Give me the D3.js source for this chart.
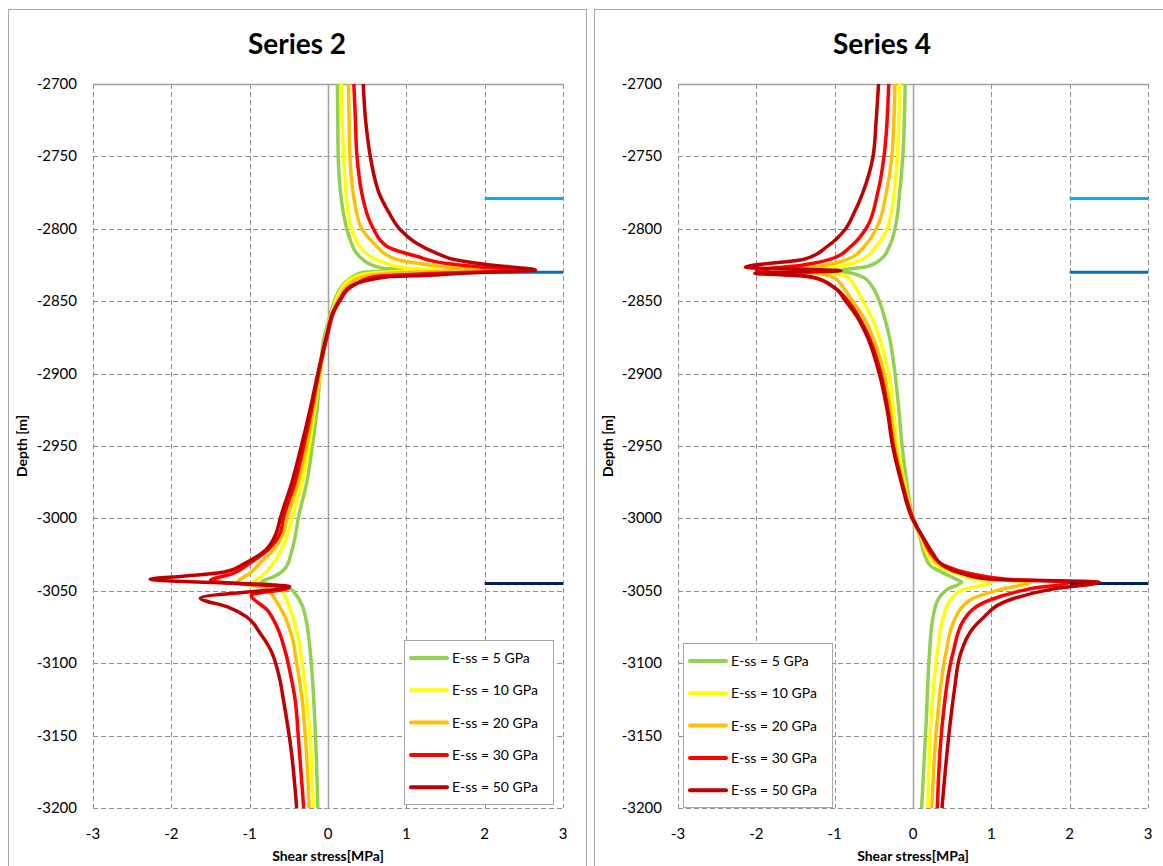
<!DOCTYPE html>
<html>
<head>
<meta charset="utf-8">
<script src="https://cdn.jsdelivr.net/npm/d3@7"></script>
<style>
  body { margin: 0; background: #fff; }
  svg { display: block; font-family: Lato, "Open Sans", sans-serif; }
</style>
</head>
<body>
<script>
// ---- data: [depth (m), shear stress (MPa)] ----
var seriesNames = ["E-ss = 5 GPa", "E-ss = 10 GPa", "E-ss = 20 GPa", "E-ss = 30 GPa", "E-ss = 50 GPa"];
var seriesColors = ["#92D050", "#FFFF00", "#FFC000", "#FF0000", "#C00000"];

var s2_5 = [[-2700,0.12],[-2725,0.125],[-2750,0.13],[-2775,0.16],[-2790,0.20],[-2800,0.24],[-2810,0.30],[-2815,0.34],[-2820,0.42],[-2824,0.52],[-2827,0.68],[-2828.5,0.95],[-2830,0.45],[-2833,0.32],[-2837,0.22],[-2845,0.12],[-2855,0.05],[-2865,0.0],[-2875,-0.05],[-2900,-0.10],[-2925,-0.14],[-2950,-0.20],[-2975,-0.27],[-3000,-0.38],[-3010,-0.41],[-3022,-0.46],[-3034,-0.54],[-3040,-0.68],[-3044,-0.85],[-3048,-0.50],[-3052,-0.42],[-3060,-0.33],[-3070,-0.28],[-3090,-0.23],[-3110,-0.20],[-3150,-0.16],[-3200,-0.13]];
var s2_10 = [[-2700,0.17],[-2725,0.18],[-2750,0.20],[-2775,0.23],[-2790,0.26],[-2800,0.30],[-2810,0.38],[-2815,0.45],[-2820,0.57],[-2824,0.75],[-2827,1.0],[-2828.5,1.4],[-2830,0.7],[-2832,0.4],[-2836,0.26],[-2845,0.14],[-2858,0.05],[-2870,-0.01],[-2900,-0.10],[-2925,-0.17],[-2950,-0.24],[-2975,-0.33],[-3000,-0.46],[-3010,-0.51],[-3022,-0.60],[-3034,-0.74],[-3040,-0.85],[-3044,-0.95],[-3048,-0.62],[-3054,-0.55],[-3068,-0.45],[-3085,-0.37],[-3100,-0.33],[-3125,-0.27],[-3150,-0.23],[-3200,-0.19]];
var s2_20 = [[-2700,0.26],[-2725,0.27],[-2750,0.28],[-2775,0.32],[-2790,0.37],[-2800,0.43],[-2812,0.62],[-2817,0.72],[-2821.5,0.9],[-2825,1.3],[-2827,1.6],[-2828.5,2.0],[-2830,1.0],[-2832,0.55],[-2836,0.32],[-2845,0.17],[-2858,0.06],[-2870,0.0],[-2900,-0.11],[-2925,-0.19],[-2950,-0.27],[-2975,-0.38],[-3000,-0.52],[-3010,-0.57],[-3022,-0.70],[-3031,-0.87],[-3038,-1.0],[-3044,-1.15],[-3048,-0.8],[-3054,-0.70],[-3068,-0.55],[-3084,-0.45],[-3100,-0.40],[-3125,-0.33],[-3150,-0.29],[-3200,-0.24]];
var s2_30 = [[-2700,0.33],[-2725,0.35],[-2750,0.37],[-2775,0.43],[-2790,0.50],[-2800,0.58],[-2812,0.75],[-2819,1.13],[-2824,1.52],[-2826.5,1.98],[-2828.5,2.5],[-2830.5,1.5],[-2833,0.6],[-2840,0.30],[-2849,0.16],[-2858,0.07],[-2872,0.0],[-2900,-0.12],[-2925,-0.21],[-2950,-0.31],[-2975,-0.42],[-3000,-0.57],[-3010,-0.61],[-3022,-0.77],[-3031,-1.0],[-3038,-1.21],[-3043,-1.5],[-3048,-0.5],[-3053,-0.98],[-3063,-0.78],[-3075,-0.65],[-3091,-0.55],[-3110,-0.47],[-3125,-0.42],[-3150,-0.38],[-3200,-0.31]];
var s2_50 = [[-2700,0.45],[-2725,0.48],[-2750,0.54],[-2766,0.60],[-2775,0.65],[-2789,0.78],[-2801,0.93],[-2810,1.13],[-2817,1.39],[-2821.6,1.64],[-2825,2.07],[-2828.5,2.65],[-2830.7,1.73],[-2832,1.3],[-2833,0.79],[-2840,0.28],[-2849,0.15],[-2858,0.06],[-2872,-0.01],[-2900,-0.13],[-2925,-0.23],[-2950,-0.34],[-2975,-0.46],[-3000,-0.61],[-3010,-0.66],[-3022,-0.80],[-3031,-1.06],[-3037,-1.32],[-3040,-1.85],[-3042,-2.27],[-3047,-0.49],[-3055,-1.63],[-3061,-1.29],[-3068,-1.04],[-3079,-0.87],[-3090,-0.74],[-3110,-0.62],[-3125,-0.57],[-3160,-0.47],[-3200,-0.40]];

var s4_5 = [[-2700,-0.10],[-2750,-0.13],[-2775,-0.17],[-2800,-0.23],[-2812,-0.30],[-2821,-0.41],[-2826,-0.58],[-2829,-0.92],[-2831,-0.75],[-2834,-0.62],[-2840,-0.52],[-2850,-0.43],[-2862,-0.36],[-2875,-0.30],[-2900,-0.23],[-2925,-0.18],[-2950,-0.14],[-2975,-0.08],[-3000,0.0],[-3015,0.10],[-3024,0.14],[-3033,0.23],[-3038,0.40],[-3042,0.55],[-3044,0.62],[-3049,0.44],[-3056,0.32],[-3070,0.25],[-3093,0.21],[-3139,0.17],[-3200,0.11]];
var s4_10 = [[-2700,-0.17],[-2750,-0.20],[-2775,-0.24],[-2800,-0.33],[-2812,-0.47],[-2821,-0.64],[-2825,-0.85],[-2829,-1.25],[-2831,-0.95],[-2834,-0.82],[-2840,-0.74],[-2850,-0.64],[-2862,-0.52],[-2875,-0.43],[-2900,-0.31],[-2925,-0.25],[-2950,-0.20],[-2975,-0.11],[-3000,0.0],[-3015,0.12],[-3024,0.18],[-3033,0.32],[-3038,0.55],[-3042,0.80],[-3044,1.0],[-3049,0.65],[-3056,0.48],[-3070,0.38],[-3093,0.31],[-3139,0.23],[-3200,0.19]];
var s4_20 = [[-2700,-0.23],[-2750,-0.27],[-2775,-0.34],[-2800,-0.47],[-2812,-0.62],[-2821,-0.83],[-2825,-1.1],[-2829,-1.6],[-2831,-1.2],[-2834,-1.0],[-2840,-0.9],[-2850,-0.77],[-2862,-0.62],[-2875,-0.51],[-2900,-0.37],[-2925,-0.29],[-2950,-0.23],[-2975,-0.13],[-3000,0.0],[-3015,0.13],[-3024,0.21],[-3033,0.38],[-3038,0.65],[-3042,1.0],[-3044,1.5],[-3049,1.12],[-3056,0.74],[-3070,0.53],[-3093,0.42],[-3139,0.31],[-3200,0.24]];
var s4_30 = [[-2700,-0.31],[-2750,-0.37],[-2775,-0.45],[-2800,-0.60],[-2812,-0.79],[-2821,-1.05],[-2825,-1.4],[-2829,-2.0],[-2831,-1.6],[-2834,-1.25],[-2840,-1.02],[-2850,-0.83],[-2862,-0.68],[-2875,-0.56],[-2900,-0.41],[-2925,-0.32],[-2950,-0.25],[-2975,-0.14],[-3000,0.0],[-3015,0.14],[-3024,0.23],[-3033,0.42],[-3038,0.72],[-3042,1.2],[-3044,2.0],[-3049,1.46],[-3056,1.0],[-3070,0.65],[-3093,0.51],[-3139,0.38],[-3200,0.31]];
var s4_50 = [[-2700,-0.44],[-2725,-0.47],[-2750,-0.51],[-2775,-0.64],[-2790,-0.76],[-2800,-0.86],[-2812,-1.09],[-2821,-1.39],[-2826.6,-2.14],[-2829,-0.92],[-2830.7,-2.02],[-2833,-1.30],[-2840,-1.02],[-2850,-0.86],[-2862,-0.70],[-2875,-0.58],[-2900,-0.43],[-2925,-0.33],[-2950,-0.26],[-2975,-0.15],[-3000,-0.01],[-3015,0.15],[-3024,0.25],[-3033,0.40],[-3038,0.62],[-3042,1.0],[-3044,2.38],[-3049,1.76],[-3056,1.25],[-3070,0.87],[-3093,0.61],[-3118,0.53],[-3139,0.48],[-3200,0.37]];

// layer boundary markers (short horizontal lines from x=2 to x=3)
var markerDepths = [-2779, -2830, -3045];
var markerColors = ["#00B0F0", "#0070C0", "#002060"];
var markerRange = [2, 3];

var xTicks = [-3, -2, -1, 0, 1, 2, 3];
var yTicks = [-2700, -2750, -2800, -2850, -2900, -2950, -3000, -3050, -3100, -3150, -3200];

var width = 1163, height = 866;

var svg = d3.select("body").append("svg")
    .attr("width", width)
    .attr("height", height);

drawPanel({ frameX: 8.5, frameW: 578, left: 93, right: 563, title: "Series 2",
            titleX: 297, legendX: 404, legendY: 640,
            curves: [s2_5, s2_10, s2_20, s2_30, s2_50] });
drawPanel({ frameX: 594.5, frameW: 600, left: 678, right: 1148, title: "Series 4",
            titleX: 882, legendX: 683, legendY: 643,
            curves: [s4_5, s4_10, s4_20, s4_30, s4_50] });

function drawPanel(p)
{
    var top = 84, bottom = 808;

    var x = d3.scaleLinear().domain([-3, 3]).range([p.left, p.right]);
    var y = d3.scaleLinear().domain([-2700, -3200]).range([top, bottom]);

    // chart frame
    svg.append("rect")
        .attr("x", p.frameX).attr("y", 9.5)
        .attr("width", p.frameW).attr("height", 900)
        .attr("fill", "#fff").attr("stroke", "#a6a6a6");

    svg.append("text")
        .attr("x", p.titleX).attr("y", 54)
        .attr("text-anchor", "middle")
        .attr("font-size", 28).attr("font-weight", "bold")
        .text(p.title);

    var g = svg.append("g");

    // dashed grid
    g.selectAll(".hg").data(yTicks.slice(1)).enter().append("line")
        .attr("x1", p.left).attr("x2", p.right)
        .attr("y1", function (d) { return Math.round(y(d)) + 0.5; })
        .attr("y2", function (d) { return Math.round(y(d)) + 0.5; })
        .attr("stroke", "#8f8f8f").attr("stroke-dasharray", "5,3");
    g.selectAll(".vg").data(xTicks.filter(function (d) { return d !== 0; })).enter().append("line")
        .attr("y1", top).attr("y2", bottom)
        .attr("x1", function (d) { return Math.round(x(d)) + 0.5; })
        .attr("x2", function (d) { return Math.round(x(d)) + 0.5; })
        .attr("stroke", "#8f8f8f").attr("stroke-dasharray", "5,3");

    // axis lines: top (x axis crosses at -2700) and x=0
    g.append("line")
        .attr("x1", p.left).attr("x2", p.right)
        .attr("y1", top + 0.5).attr("y2", top + 0.5)
        .attr("stroke", "#a0a0a0").attr("stroke-width", 1.5);
    g.append("line")
        .attr("x1", Math.round(x(0)) + 0.5).attr("x2", Math.round(x(0)) + 0.5)
        .attr("y1", top).attr("y2", bottom)
        .attr("stroke", "#a0a0a0").attr("stroke-width", 1.5);
    g.selectAll(".yt").data(yTicks).enter().append("line")
        .attr("x1", Math.round(x(0)) - 4).attr("x2", Math.round(x(0)) + 1)
        .attr("y1", function (d) { return Math.round(y(d)) + 0.5; })
        .attr("y2", function (d) { return Math.round(y(d)) + 0.5; })
        .attr("stroke", "#a0a0a0");

    // tick labels
    g.selectAll(".yl").data(yTicks).enter().append("text")
        .attr("x", p.left - 16).attr("y", function (d) { return y(d) + 5; })
        .attr("text-anchor", "end").attr("font-size", 15)
        .text(function (d) { return d; });
    g.selectAll(".xl").data(xTicks).enter().append("text")
        .attr("x", function (d) { return x(d); }).attr("y", 839)
        .attr("text-anchor", "middle").attr("font-size", 15)
        .text(function (d) { return d; });

    g.append("text")
        .attr("x", (p.left + p.right) / 2).attr("y", 861)
        .attr("text-anchor", "middle").attr("font-size", 14).attr("font-weight", "bold")
        .text("Shear stress[MPa]");
    g.append("text")
        .attr("transform", "translate(" + (p.frameX + 18) + "," + (top + bottom) / 2 + ") rotate(-90)")
        .attr("text-anchor", "middle").attr("font-size", 14).attr("font-weight", "bold")
        .text("Depth [m]");

    // boundary markers
    g.selectAll(".mk").data(markerDepths).enter().append("line")
        .attr("x1", x(markerRange[0])).attr("x2", x(markerRange[1]))
        .attr("y1", function (d) { return y(d); })
        .attr("y2", function (d) { return y(d); })
        .attr("stroke", function (d, i) { return markerColors[i]; })
        .attr("stroke-width", 3);

    // depth is monotone along each curve, so a monotone-in-y curve smooths without overshoot
    var line = d3.line()
        .x(function (d) { return x(d[1]); })
        .y(function (d) { return y(d[0]); })
        .curve(d3.curveMonotoneY);

    g.selectAll(".curve").data(p.curves).enter().append("path")
        .attr("d", line)
        .attr("fill", "none")
        .attr("stroke", function (d, i) { return seriesColors[i]; })
        .attr("stroke-width", 3.5)
        .attr("stroke-linejoin", "round");

    // legend
    var lg = g.append("g").attr("transform", "translate(" + p.legendX + "," + p.legendY + ")");
    lg.append("rect")
        .attr("x", 0.5).attr("y", 0.5).attr("width", 149).attr("height", 164)
        .attr("fill", "#fff").attr("stroke", "#a6a6a6");
    var item = lg.selectAll(".item").data(seriesNames).enter().append("g")
        .attr("transform", function (d, i) { return "translate(0," + (18 + i * 32.3) + ")"; });
    item.append("line")
        .attr("x1", 7).attr("x2", 43)
        .attr("stroke", function (d, i) { return seriesColors[i]; })
        .attr("stroke-width", 4).attr("stroke-linecap", "round");
    item.append("text")
        .attr("x", 48).attr("y", 5)
        .attr("font-size", 14)
        .text(function (d) { return d; });
}
</script>
</body>
</html>
